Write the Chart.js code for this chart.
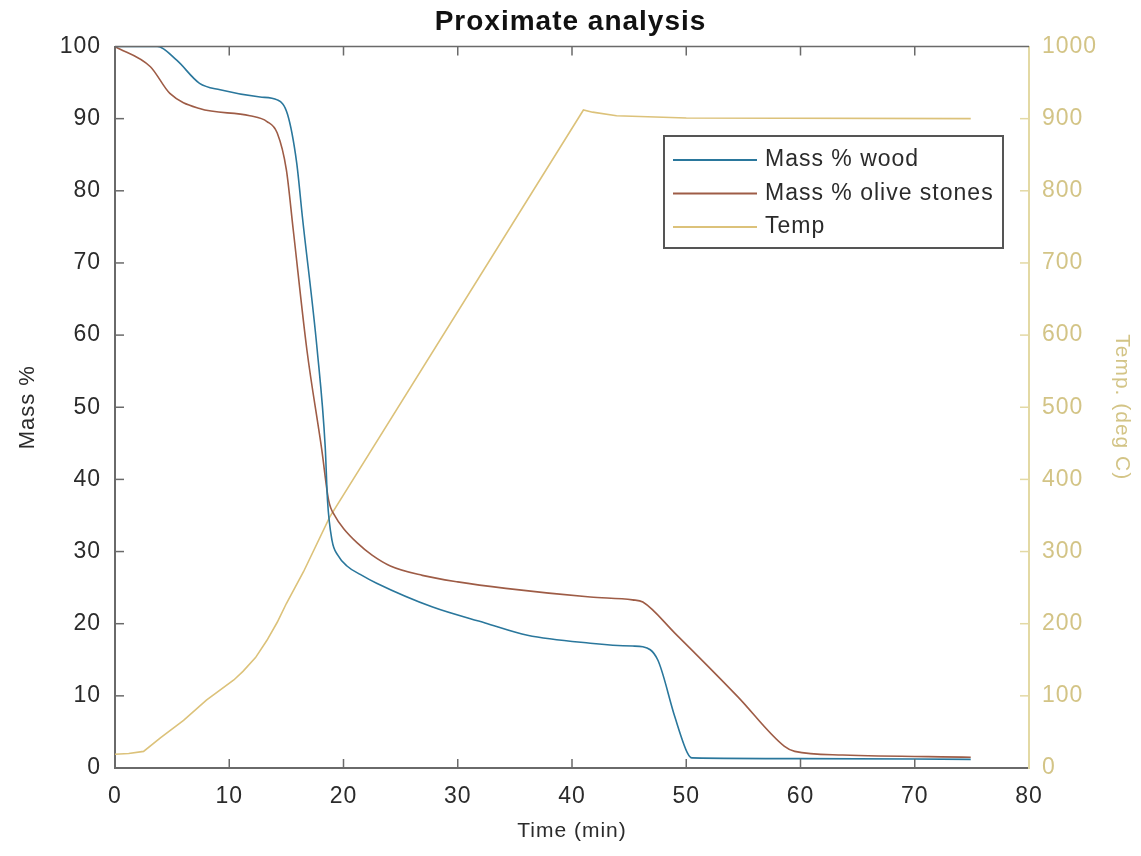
<!DOCTYPE html>
<html>
<head>
<meta charset="utf-8">
<script src="https://cdn.jsdelivr.net/npm/chart.js@4.4.1/dist/chart.umd.min.js"></script>
<style>
  html, body { margin: 0; padding: 0; background: #fff; }
  canvas { display: block; }
</style>
</head>
<body>
<canvas id="proxChart" width="1141" height="856"></canvas>
<script>
// values
const woodTime = [0, 3.7, 5.4, 7.4, 9.2, 12.7, 14.2, 15.1, 15.9, 16.4, 17.7, 18.4, 18.6, 19.0, 19.5, 20.3, 21.5, 22.9, 27.8, 32.4, 36.1, 41.6, 45.3, 46.2, 47.5, 49.0, 50.1, 50.5, 60, 74.9];
const woodMass = [100, 100, 98.1, 94.9, 94.0, 93.0, 92.6, 90.6, 83.9, 76.4, 57.9, 44.5, 37.1, 31.5, 29.5, 28.0, 26.8, 25.6, 22.3, 20.1, 18.4, 17.3, 16.9, 16.8, 15.0, 7.1, 2.1, 1.4, 1.3, 1.2];

const oliveTime = [0, 3.1, 4.8, 7.4, 11.8, 13.3, 14.2, 15.0, 15.6, 16.8, 18.1, 18.7, 19.3, 20.0, 21.2, 22.5, 24.1, 26.9, 30, 34.2, 41.6, 45.3, 46.2, 49.0, 54.5, 58.6, 59.5, 63.7, 74.9];
const oliveMass = [100, 97.2, 93.5, 91.4, 90.4, 89.6, 88.0, 82.9, 74.6, 57.9, 44.1, 37.1, 34.8, 33.2, 31.2, 29.5, 28.0, 26.7, 25.8, 24.9, 23.7, 23.3, 23.0, 18.7, 9.9, 3.0, 2.3, 1.8, 1.5];

const tempTime = [0, 1.2, 2.5, 4.0, 6.0, 8.0, 10.4, 11.2, 12.3, 13.3, 14.2, 15.0, 16.5, 18.8, 41.0, 41.8, 43.9, 50, 74.9];
const tempVals = [19, 20, 23, 42, 66, 94, 122, 134, 153, 177, 202, 228, 272, 348, 912, 909, 904, 901, 900];

const xTicks = [0, 10, 20, 30, 40, 50, 60, 70, 80];
const massTicks = [0, 10, 20, 30, 40, 50, 60, 70, 80, 90, 100];
const tempTicks = [0, 100, 200, 300, 400, 500, 600, 700, 800, 900, 1000];

const seriesNames = ['Mass % wood', 'Mass % olive stones', 'Temp'];
const seriesColors = ['#2a779c', '#9e5c46', '#dcc27a'];

const axisGrey = '#6a6a6a';
const textGrey = '#2b2b2b';
const tempAxisColor = '#e3d9a4';
const tempTextColor = '#d3c486';
const fontFamily = '"Liberation Sans", Arial, sans-serif';

const pairs = (xs, ys) => xs.map((x, i) => ({ x: x, y: ys[i] }));

// matlab text is drawn a bit spaced out
const spacingPlugin = {
    id: 'spacing',
    beforeUpdate(chart) { chart.ctx.letterSpacing = '1px'; },
    beforeDraw(chart) { chart.ctx.letterSpacing = '1px'; }
};

// inward tick marks, MATLAB box top edge, and the legend box
const framePlugin = {
    id: 'frame',
    afterDraw(chart) {
        const ctx = chart.ctx;
        const a = chart.chartArea;
        const sx = chart.scales.x, sy = chart.scales.y, sy2 = chart.scales.y2;
        const len = 9;
        ctx.save();
        ctx.lineWidth = 1.5;
        ctx.strokeStyle = axisGrey;
        // top edge
        ctx.beginPath();
        ctx.moveTo(a.left, a.top);
        ctx.lineTo(a.right, a.top);
        ctx.stroke();
        xTicks.forEach(v => {
            if (v === 0 || v === 80) return;
            const px = sx.getPixelForValue(v);
            ctx.beginPath();
            ctx.moveTo(px, a.bottom); ctx.lineTo(px, a.bottom - len);
            ctx.moveTo(px, a.top); ctx.lineTo(px, a.top + len);
            ctx.stroke();
        });
        massTicks.forEach(v => {
            if (v === 0 || v === 100) return;
            const py = sy.getPixelForValue(v);
            ctx.beginPath();
            ctx.moveTo(a.left, py); ctx.lineTo(a.left + len, py);
            ctx.stroke();
        });
        ctx.strokeStyle = tempAxisColor;
        tempTicks.forEach(v => {
            if (v === 0 || v === 1000) return;
            const py = sy2.getPixelForValue(v);
            ctx.beginPath();
            ctx.moveTo(a.right, py); ctx.lineTo(a.right - len, py);
            ctx.stroke();
        });

        // legend
        const bx = 664, by = 136, bw = 339, bh = 112;
        ctx.fillStyle = '#ffffff';
        ctx.fillRect(bx, by, bw, bh);
        ctx.lineWidth = 2;
        ctx.strokeStyle = '#555555';
        ctx.strokeRect(bx, by, bw, bh);
        ctx.font = '23px ' + fontFamily;
        ctx.letterSpacing = '1px';
        ctx.textBaseline = 'middle';
        chart.data.datasets.forEach((ds, i) => {
            const yy = by + 24 + i * 33.5;
            ctx.strokeStyle = ds.borderColor;
            ctx.lineWidth = 2;
            ctx.beginPath();
            ctx.moveTo(bx + 9, yy);
            ctx.lineTo(bx + 93, yy);
            ctx.stroke();
            ctx.fillStyle = textGrey;
            ctx.fillText(ds.label, bx + 101, yy);
        });
        ctx.restore();
    }
};

const ctx = document.getElementById('proxChart').getContext('2d');
const proxChart = new Chart(ctx, {
    type: 'line',
    data: {
        datasets: [{
            label: seriesNames[0],
            data: pairs(woodTime, woodMass),
            borderColor: seriesColors[0],
            yAxisID: 'y'
        }, {
            label: seriesNames[1],
            data: pairs(oliveTime, oliveMass),
            borderColor: seriesColors[1],
            yAxisID: 'y'
        }, {
            label: seriesNames[2],
            data: pairs(tempTime, tempVals),
            borderColor: seriesColors[2],
            cubicInterpolationMode: 'default',
            tension: 0,
            yAxisID: 'y2'
        }]
    },
    options: {
        responsive: false,
        animation: false,
        devicePixelRatio: 1,
        layout: { padding: 0 },
        elements: {
            point: { radius: 0 },
            line: { borderWidth: 1.6, cubicInterpolationMode: 'monotone', fill: false }
        },
        plugins: {
            legend: { display: false },
            tooltip: { enabled: false },
            title: {
                display: true,
                text: 'Proximate analysis',
                color: '#111',
                font: { family: fontFamily, size: 28, weight: 'bold', lineHeight: 1.2 },
                padding: { top: 5, bottom: 7.9 }
            }
        },
        scales: {
            x: {
                type: 'linear',
                min: 0, max: 80,
                afterFit: s => { s.height = 88; },
                afterBuildTicks: s => { s.ticks = xTicks.map(v => ({ value: v })); },
                grid: { display: false, drawTicks: false },
                border: { display: true, color: axisGrey, width: 2 },
                ticks: {
                    padding: 15,
                    color: textGrey,
                    font: { family: fontFamily, size: 23 },
                    callback: v => String(v)
                },
                title: {
                    display: true,
                    text: 'Time (min)',
                    color: textGrey,
                    font: { family: fontFamily, size: 21, lineHeight: 1.2 },
                    padding: { top: 0, bottom: 12 }
                }
            },
            y: {
                position: 'left',
                min: 0, max: 100,
                afterFit: s => { s.width = 115; },
                afterBuildTicks: s => { s.ticks = massTicks.map(v => ({ value: v })); },
                grid: { display: false, drawTicks: false },
                border: { display: true, color: axisGrey, width: 2 },
                ticks: {
                    padding: 14,
                    color: textGrey,
                    font: { family: fontFamily, size: 23 },
                    callback: v => String(v)
                },
                title: {
                    display: true,
                    text: 'Mass %',
                    color: textGrey,
                    font: { family: fontFamily, size: 22, lineHeight: 1.2 },
                    padding: { top: 15, bottom: 0 }
                }
            },
            y2: {
                position: 'right',
                min: 0, max: 1000,
                afterFit: s => { s.width = 112; },
                afterBuildTicks: s => { s.ticks = tempTicks.map(v => ({ value: v })); },
                grid: { display: false, drawTicks: false },
                border: { display: true, color: tempAxisColor, width: 2 },
                ticks: {
                    padding: 13,
                    color: tempTextColor,
                    font: { family: fontFamily, size: 23 },
                    callback: v => String(v)
                },
                title: {
                    display: true,
                    text: 'Temp. (deg C)',
                    color: tempTextColor,
                    font: { family: fontFamily, size: 21, lineHeight: 1.2 },
                    padding: { top: 7, bottom: 0 }
                }
            }
        }
    },
    plugins: [spacingPlugin, framePlugin]
});
</script>
</body>
</html>
